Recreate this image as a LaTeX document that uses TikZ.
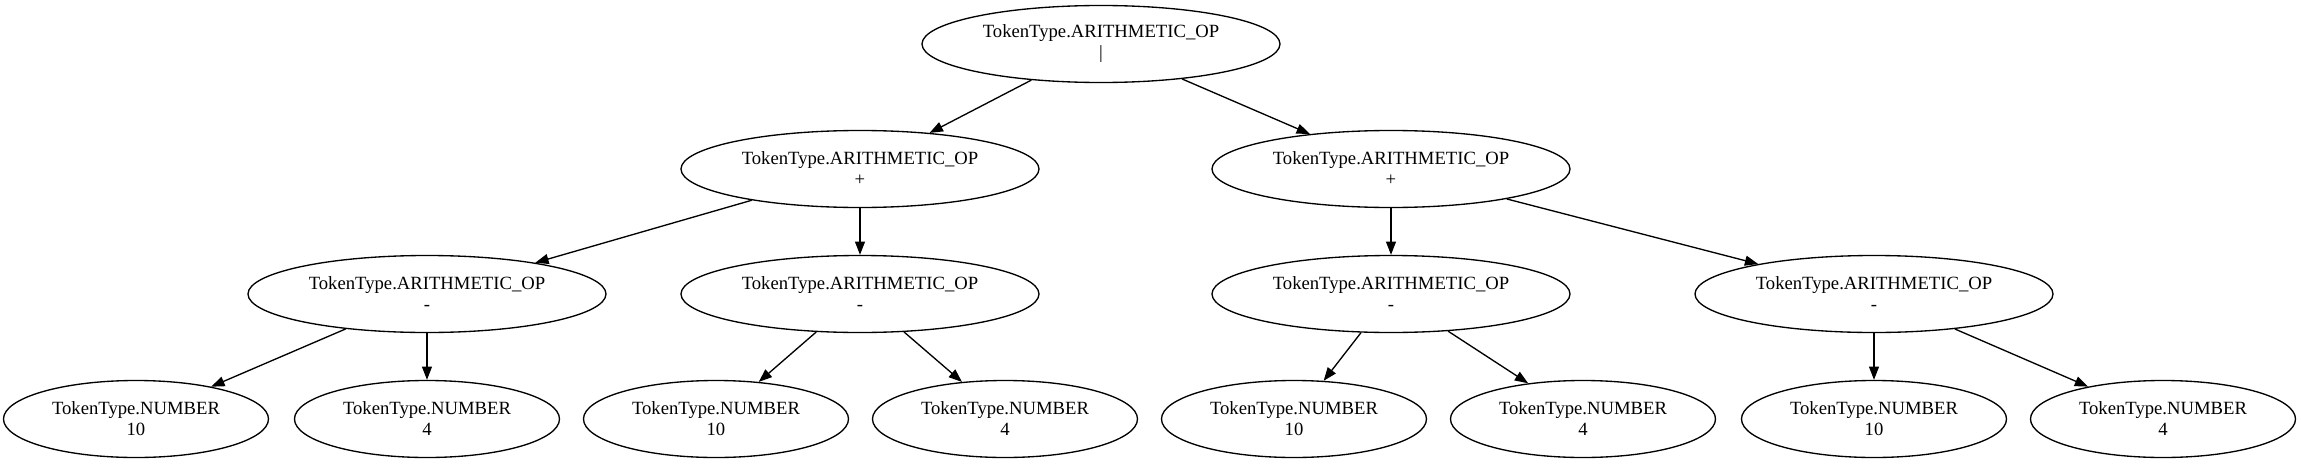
\documentclass[tikz,border=0pt]{standalone}
\usepackage{fontspec}
\setmainfont{Liberation Serif}
\usetikzlibrary{arrows.meta,positioning,shapes.geometric}

\begin{document}
\begin{tikzpicture}[
      on grid,
      node distance=93.75pt,
      every node/.style={font=\fontsize{14pt}{15.75pt}\selectfont},
      opnode/.style={draw, ellipse, line width=1pt, align=center, inner sep=0pt, minimum width=268.5pt, minimum height=57.75pt},
      numnode/.style={draw, ellipse, line width=1pt, align=center, inner sep=0pt, minimum width=198.75pt, minimum height=57.75pt},
      arrow/.style={-{Triangle[length=10pt,width=7.5pt]}, line width=1pt}
  ]
    \useasboundingbox (-825.75pt,33pt) rectangle (900pt,-315pt);
    % operator nodes
    \node[opnode] (root) {TokenType.ARITHMETIC\_OP\\|};
    \node[opnode, below left=93.75pt and 180.75pt of root] (plusL) {TokenType.ARITHMETIC\_OP\\+};
    \node[opnode, below right=93.75pt and 217.5pt of root] (plusR) {TokenType.ARITHMETIC\_OP\\+};
    \node[opnode, below left=93.75pt and 324.75pt of plusL] (minA) {TokenType.ARITHMETIC\_OP\\-};
    \node[opnode, below=of plusL] (minB) {TokenType.ARITHMETIC\_OP\\-};
    \node[opnode, below=of plusR] (minC) {TokenType.ARITHMETIC\_OP\\-};
    \node[opnode, below right=93.75pt and 362.25pt of plusR] (minD) {TokenType.ARITHMETIC\_OP\\-};
    % number leaves
    \node[numnode, below left=93.75pt and 218.25pt of minA] (tenA) {TokenType.NUMBER\\10};
    \node[numnode, below=of minA] (fourA) {TokenType.NUMBER\\4};
    \node[numnode, below left=93.75pt and 108pt of minB] (tenB) {TokenType.NUMBER\\10};
    \node[numnode, below right=93.75pt and 108.75pt of minB] (fourB) {TokenType.NUMBER\\4};
    \node[numnode, below left=93.75pt and 72.75pt of minC] (tenC) {TokenType.NUMBER\\10};
    \node[numnode, below right=93.75pt and 144pt of minC] (fourC) {TokenType.NUMBER\\4};
    \node[numnode, below=of minD] (tenD) {TokenType.NUMBER\\10};
    \node[numnode, below right=93.75pt and 216.75pt of minD] (fourD) {TokenType.NUMBER\\4};
    \draw[arrow] (root) -- (plusL);
    \draw[arrow] (root) -- (plusR);
    \draw[arrow] (plusL) -- (minA);
    \draw[arrow] (plusL) -- (minB);
    \draw[arrow] (plusR) -- (minC);
    \draw[arrow] (plusR) -- (minD);
    \draw[arrow] (minA) -- (tenA);
    \draw[arrow] (minA) -- (fourA);
    \draw[arrow] (minB) -- (tenB);
    \draw[arrow] (minB) -- (fourB);
    \draw[arrow] (minC) -- (tenC);
    \draw[arrow] (minC) -- (fourC);
    \draw[arrow] (minD) -- (tenD);
    \draw[arrow] (minD) -- (fourD);
  \end{tikzpicture}
\end{document}
